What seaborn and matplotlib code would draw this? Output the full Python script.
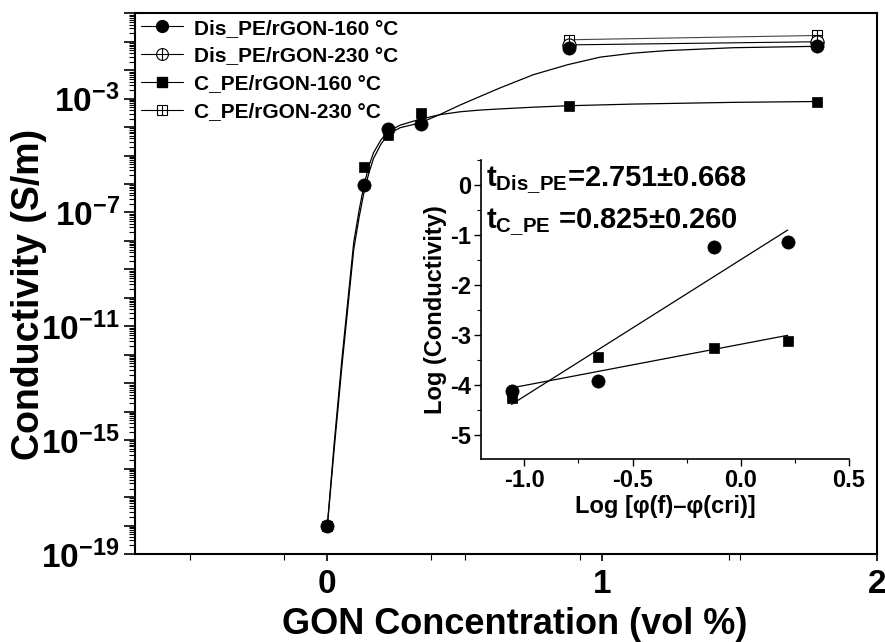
import numpy as np
import pandas as pd
import matplotlib
matplotlib.use("Agg")
import matplotlib.pyplot as plt
from matplotlib.lines import Line2D
from matplotlib.ticker import FixedLocator, LogLocator, NullFormatter, FuncFormatter
import seaborn as sns

# ---------------- data ----------------
# main plot: GON concentration (vol %) and log10 conductivity (S/m)
conc_160 = [0.0, 0.132, 0.219, 0.342, 0.881, 1.781]
dis_160_log = [-18.0, -6.05, -4.06, -3.89, -1.22, -1.14]
c_160_log = [-18.0, -5.39, -4.27, -3.50, -3.25, -3.10]
conc_230 = [0.881, 1.781]
dis_230_log = [-1.11, -1.00]
c_230_log = [-0.93, -0.78]

# fitted curves
curve_x = [0.0, 0.025, 0.053, 0.075, 0.096, 0.115, 0.132, 0.150, 0.168, 0.195,
           0.221, 0.265, 0.338, 0.411, 0.484, 0.556, 0.629, 0.749, 0.873, 0.993,
           1.113, 1.236, 1.476, 1.782]
dis_curve_log = [-18.0, -15.3, -12.4, -10.3, -8.3, -7.2, -6.35, -5.65, -5.1, -4.6,
                 -4.25, -4.02, -3.85, -3.55, -3.22, -2.92, -2.62, -2.16, -1.81, -1.54,
                 -1.40, -1.31, -1.21, -1.16]
c_curve_log = [-18.0, -15.1, -12.15, -10.05, -8.05, -6.95, -6.1, -5.4, -4.9, -4.45,
               -4.15, -3.93, -3.72, -3.56, -3.46, -3.40, -3.36, -3.30, -3.25, -3.22,
               -3.19, -3.17, -3.13, -3.10]

# inset: log[phi(f)-phi(cri)] vs log(conductivity)
inset_x = [-1.059, -0.660, -0.124, 0.217]
inset_dis = [-4.13, -3.92, -1.25, -1.14]
inset_c = [-4.27, -3.45, -3.27, -3.12]

legend_labels = ["Dis_PE/rGON-160 \u00b0C", "Dis_PE/rGON-230 \u00b0C",
                 "C_PE/rGON-160 \u00b0C", "C_PE/rGON-230 \u00b0C"]
xtick_values = [0, 1, 2]
xtick_labels = ["0", "1", "2"]
ytick_label_exponents = [-3, -7, -11, -15, -19]
inset_xticks = [-1.0, -0.5, 0.0, 0.5]
inset_xtick_labels = ["-1.0", "-0.5", "0.0", "0.5"]
inset_yticks = [0, -1, -2, -3, -4, -5]
annot_dis = r"$\mathregular{t_{Dis\_PE}}$=2.751" + "\u00b1" + "0.668"
annot_c = r"$\mathregular{t_{C\_PE}}$ =0.825" + "\u00b1" + "0.260"

# ---------------- style ----------------
sns.set_style("ticks")
plt.rcParams["font.family"] = ["Liberation Sans", "DejaVu Sans"]
plt.rcParams["font.weight"] = "bold"
plt.rcParams["axes.labelweight"] = "bold"
plt.rcParams["axes.unicode_minus"] = False
plt.rcParams["text.color"] = "black"
plt.rcParams["axes.labelcolor"] = "black"
plt.rcParams["xtick.color"] = "black"
plt.rcParams["ytick.color"] = "black"
plt.rcParams["axes.edgecolor"] = "black"
plt.rcParams["mathtext.fontset"] = "custom"
plt.rcParams["mathtext.rm"] = "Liberation Sans:bold"
plt.rcParams["mathtext.bf"] = "Liberation Sans:bold"
plt.rcParams["mathtext.it"] = "Liberation Sans:bold"

fig = plt.figure(figsize=(8.85, 6.42), dpi=100)
ax = fig.add_axes([0.1525, 0.1371, 0.8385, 0.8422])

to_lin = lambda v: np.power(10.0, np.asarray(v, dtype=float))

# curves
sns.lineplot(x=curve_x, y=to_lin(dis_curve_log), ax=ax, color="black", lw=0.9,
             sort=False, estimator=None, zorder=2)
sns.lineplot(x=curve_x, y=to_lin(c_curve_log), ax=ax, color="black", lw=0.9,
             sort=False, estimator=None, zorder=2)
sns.lineplot(x=conc_230, y=to_lin(dis_230_log), ax=ax, color="black", lw=0.8,
             sort=False, estimator=None, zorder=2)
sns.lineplot(x=conc_230, y=to_lin(c_230_log), ax=ax, color="#444444", lw=0.8,
             sort=False, estimator=None, zorder=2)

# markers
ms_c, ms_s = 9.5, 7.5
sns.scatterplot(x=conc_230, y=to_lin(c_230_log), ax=ax, marker="s", s=ms_s**2,
                facecolor="white", edgecolor="black", linewidth=0.8, zorder=3)
sns.scatterplot(x=conc_230, y=to_lin(c_230_log), ax=ax, marker="+", s=ms_s**2,
                color="black", linewidth=0.8, zorder=3)
sns.scatterplot(x=conc_230, y=to_lin(dis_230_log), ax=ax, marker="o", s=ms_c**2,
                facecolor="white", edgecolor="black", linewidth=0.8, zorder=3)
sns.scatterplot(x=conc_230, y=to_lin(dis_230_log), ax=ax, marker="+", s=ms_c**2,
                color="black", linewidth=0.8, zorder=3)
sns.scatterplot(x=conc_160, y=to_lin(c_160_log), ax=ax, marker="s", s=ms_s**2,
                color="black", edgecolor="black", linewidth=0.5, zorder=4)
sns.scatterplot(x=conc_160, y=to_lin(dis_160_log), ax=ax, marker="o", s=ms_c**2,
                color="black", edgecolor="black", linewidth=0.5, zorder=4)

ax.set_yscale("log")
ax.set_xlim(-0.7, 2.0)
ax.set_ylim(1e-19, 1e0)

ax.yaxis.set_major_locator(LogLocator(base=10, numticks=100))
ax.yaxis.set_minor_locator(LogLocator(base=10, subs=np.arange(2, 10), numticks=200))
ax.yaxis.set_minor_formatter(NullFormatter())


def yfmt(v, pos):
    e = int(round(np.log10(v)))
    return r"$\mathdefault{10^{%d}}$" % e if e in ytick_label_exponents else ""


ax.yaxis.set_major_formatter(FuncFormatter(yfmt))
ax.xaxis.set_major_locator(FixedLocator(xtick_values))
ax.set_xticklabels(xtick_labels)
ax.xaxis.set_minor_locator(FixedLocator([-0.5, -0.156, 0.378, 0.5, 0.92, 1.462, 1.5]))

ax.tick_params(axis="y", which="major", direction="out", length=8, width=1.2,
               labelsize=24, pad=3)
ax.tick_params(axis="y", which="minor", direction="out", length=4, width=0.8)
ax.tick_params(axis="x", which="major", direction="out", length=5, width=1.2,
               labelsize=24, pad=6)
ax.tick_params(axis="x", which="minor", direction="out", length=4, width=0.8)
for sp in ax.spines.values():
    sp.set_linewidth(1.5)
    sp.set_color("black")

ax.set_xlabel("GON Concentration (vol %)", fontsize=26, fontweight="bold", labelpad=5)
ax.set_ylabel("Conductivity (S/m)", fontsize=27, fontweight="bold", labelpad=-4)
ax.xaxis.label.set_x(0.512)
ax.yaxis.label.set_y(0.48)

# legend
h1 = Line2D([], [], color="black", lw=0.8, marker="o", ms=8.5, mfc="black", mec="black")
h2 = (Line2D([], [], color="black", lw=0.8, marker="o", ms=8.5, mfc="white", mec="black", mew=0.8),
      Line2D([], [], ls="none", marker="+", ms=8.5, color="black", mew=0.8))
h3 = Line2D([], [], color="black", lw=0.8, marker="s", ms=7, mfc="black", mec="black")
h4 = (Line2D([], [], color="black", lw=0.8, marker="s", ms=7, mfc="white", mec="black", mew=0.8),
      Line2D([], [], ls="none", marker="+", ms=7, color="black", mew=0.8))
ax.legend([h1, h2, h3, h4], legend_labels, loc="upper left", bbox_to_anchor=(0.006, 0.994),
          frameon=False, handlelength=2.0, handletextpad=0.5, labelspacing=0.42,
          borderaxespad=0, borderpad=0.1, prop={"weight": "bold", "size": 15})

# ---------------- inset ----------------
ax_in = fig.add_axes([0.5435, 0.2843, 0.4158, 0.4665])
ax_in.patch.set_alpha(0.0)
sns.regplot(x=inset_x, y=inset_dis, ax=ax_in, scatter=False, ci=None, color="black",
            line_kws={"lw": 0.9})
sns.regplot(x=inset_x, y=inset_c, ax=ax_in, scatter=False, ci=None, color="black",
            line_kws={"lw": 0.9})
sns.scatterplot(x=inset_x, y=inset_dis, ax=ax_in, marker="o", s=9.5**2, color="black",
                edgecolor="black", linewidth=0.5, zorder=4)
sns.scatterplot(x=inset_x, y=inset_c, ax=ax_in, marker="s", s=7.3**2, color="black",
                edgecolor="black", linewidth=0.5, zorder=3)
ax_in.set_xlim(-1.2, 0.5)
ax_in.set_ylim(-5.5, 0.5)
ax_in.spines["top"].set_visible(False)
ax_in.spines["right"].set_visible(False)
for s in ("left", "bottom"):
    ax_in.spines[s].set_linewidth(1.2)
ax_in.xaxis.set_major_locator(FixedLocator(inset_xticks))
ax_in.set_xticklabels(inset_xtick_labels)
ax_in.xaxis.set_minor_locator(FixedLocator([-0.75, -0.25, 0.25]))
ax_in.yaxis.set_major_locator(FixedLocator(inset_yticks))
ax_in.set_yticklabels([str(v) for v in inset_yticks])
ax_in.yaxis.set_minor_locator(FixedLocator([0.0 - 0.5 * k for k in range(-1, 11, 2)]))
ax_in.tick_params(which="major", direction="out", length=5, width=1.0, labelsize=17, pad=2)
ax_in.tick_params(which="minor", direction="out", length=3, width=0.8)
ax_in.set_xlabel("Log [\u03c6(f)\u2013\u03c6(cri)]", fontsize=17, fontweight="bold", labelpad=2)
ax_in.set_ylabel("Log (Conductivity)", fontsize=17, fontweight="bold", labelpad=2)
ax_in.text(-1.176, -0.03, annot_dis, fontsize=21, fontweight="bold", va="baseline", ha="left")
ax_in.text(-1.176, -0.87, annot_c, fontsize=21, fontweight="bold", va="baseline", ha="left")

fig.savefig("out.png", dpi=100)
